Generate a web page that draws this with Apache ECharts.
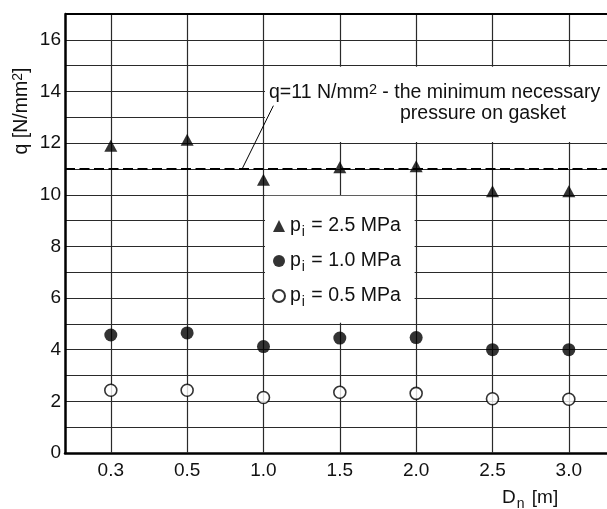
<!DOCTYPE html>
<html>
<head>
<meta charset="utf-8">
<script src="https://cdn.jsdelivr.net/npm/echarts@6/dist/echarts.min.js"></script>
<style>
html,body{margin:0;padding:0;background:#fff;}
#chart{width:607px;height:509px;}
</style>
</head>
<body>
<div id="chart"></div>
<script>
// ---- data ----
const categories = ['0.3', '0.5', '1.0', '1.5', '2.0', '2.5', '3.0'];   // D_n [m]
const pressures = ['2.5', '1.0', '0.5'];                                  // p_i [MPa]
const q25 = [11.90, 12.13, 10.58, 11.07, 11.10, 10.14, 10.14];            // p_i = 2.5 MPa
const q10 = [4.57, 4.65, 4.12, 4.45, 4.47, 4.00, 4.00];                   // p_i = 1.0 MPa
const q05 = [2.43, 2.43, 2.15, 2.35, 2.31, 2.10, 2.08];                   // p_i = 0.5 MPa
const qMin = 11;                                                          // minimum necessary pressure
const yMin = 0, yMax = 17, yStep = 1;

// ---- layout ----
const FONT = 'Liberation Sans, Arial, Helvetica, sans-serif';
const INK = '#111111';
const xMin = -0.6, xMax = 6.5;
const seriesNames = pressures.map(p => 'pi = ' + p + ' MPa');

const chart = echarts.init(document.getElementById('chart'), null, {renderer: 'canvas'});

const toPts = arr => arr.map((v, i) => [i, v]);

const option = {
  animation: false,
  backgroundColor: '#fff',
  textStyle: {fontFamily: FONT, color: INK},
  grid: {left: 65, right: 0, top: 14, bottom: 56},
  xAxis: {
    type: 'value', min: xMin, max: xMax,
    axisLine: {show: true, onZero: false, lineStyle: {color: '#000', width: 2.5}},
    axisTick: {show: false},
    splitLine: {show: false},
    axisLabel: {
      customValues: categories.map((c, i) => i),
      formatter: v => categories[Math.round(v)] ?? '',
      fontSize: 19, color: INK, margin: 8, fontFamily: FONT
    }
  },
  yAxis: {
    type: 'value', min: yMin, max: yMax, interval: yStep,
    axisLine: {show: true, onZero: false, lineStyle: {color: '#000', width: 2.5}},
    axisTick: {show: false},
    splitLine: {show: true, lineStyle: {color: '#2a2a2a', width: 1.2}},
    axisLabel: {
      formatter: v => (v % 2 === 0 ? String(v) : ''),
      fontSize: 19, color: INK, margin: 4, fontFamily: FONT
    }
  },
  legend: {
    orient: 'vertical', left: 272, top: 214, padding: 0, z: 20,
    itemWidth: 12, itemHeight: 12, itemGap: 10,
    data: seriesNames,
    formatter: name => '{a|p}{s|i}{a| = ' + pressures[seriesNames.indexOf(name)] + ' MPa}',
    textStyle: {
      fontFamily: FONT, color: INK,
      rich: {
        a: {fontSize: 19.5, lineHeight: 24, fontFamily: FONT, color: INK},
        s: {fontSize: 14, lineHeight: 14, padding: [11, 1, 0, 1], verticalAlign: 'top', fontFamily: FONT, color: INK}
      }
    }
  },
  series: [
    { // vertical grid lines
      type: 'scatter', data: [], z: 1, silent: true,
      markLine: {
        silent: true, symbol: 'none', animation: false, z: 1,
        label: {show: false},
        lineStyle: {color: '#2a2a2a', width: 1.2, type: 'solid'},
        data: categories.map((c, i) => [{coord: [i, yMin]}, {coord: [i, yMax]}])
      }
    },
    { // white boxes for annotation and legend
      type: 'scatter', data: [], z: 2, silent: true,
      markArea: {
        silent: true, z: 2,
        itemStyle: {color: '#ffffff', opacity: 1, borderWidth: 0},
        label: {show: false},
        emphasis: {disabled: true},
        data: [
          [{coord: [2.02, 12.04]}, {coord: [xMax, 14.96]}],
          [{coord: [2.02, 5.04]}, {coord: [3.98, 9.96]}]
        ]
      }
    },
    { // top frame, dashed minimum line and leader
      type: 'scatter', data: [], z: 3, silent: true,
      markLine: {
        silent: true, symbol: 'none', animation: false, z: 3,
        label: {show: false},
        data: [
          {yAxis: yMax, lineStyle: {color: '#000', width: 2.2, type: 'solid'}},
          {yAxis: qMin, lineStyle: {color: '#000', width: 2, type: [10, 4.5]}},
          [{coord: [1.72, qMin], lineStyle: {color: '#000', width: 1, type: 'solid'}}, {coord: [2.13, 13.45]}]
        ]
      }
    },
    {
      name: seriesNames[0], type: 'scatter', z: 5,
      symbol: 'triangle', symbolSize: [13, 12],
      itemStyle: {color: '#000'},
      data: toPts(q25)
    },
    {
      name: seriesNames[1], type: 'scatter', z: 5,
      symbol: 'circle', symbolSize: 13,
      itemStyle: {color: '#000'},
      data: toPts(q10)
    },
    {
      name: seriesNames[2], type: 'scatter', z: 5,
      symbol: 'circle', symbolSize: 12,
      itemStyle: {color: '#fff', borderColor: '#000', borderWidth: 1.6},
      data: toPts(q05)
    }
  ],
  graphic: [
    {
      type: 'text', x: 22, y: 111, rotation: Math.PI / 2, z: 10,
      style: {
        text: '{a|q [N/mm}{sup|2}{a|]}',
        align: 'center', verticalAlign: 'middle',
        rich: {
          a: {fontSize: 19.5, lineHeight: 24, fontFamily: FONT, fill: INK, color: INK},
          sup: {fontSize: 14, lineHeight: 14, padding: [1, 0, 0, 0], verticalAlign: 'top', fontFamily: FONT, fill: INK, color: INK}
        }
      }
    },
    {
      type: 'text', x: 502, y: 498, z: 10,
      style: {
        text: '{a|D}{s|n}{a| [m]}',
        align: 'left', verticalAlign: 'middle',
        rich: {
          a: {fontSize: 19, lineHeight: 24, fontFamily: FONT, fill: INK, color: INK},
          s: {fontSize: 14, lineHeight: 14, padding: [11, 2, 0, 1], verticalAlign: 'top', fontFamily: FONT, fill: INK, color: INK}
        }
      }
    },
    {
      type: 'text', x: 269, y: 93, z: 10,
      style: {
        text: '{a|q=11 N/mm}{sup|2}{a| - the minimum necessary}',
        align: 'left', verticalAlign: 'middle',
        rich: {
          a: {fontSize: 19.5, lineHeight: 24, fontFamily: FONT, fill: INK, color: INK},
          sup: {fontSize: 14.5, lineHeight: 14, padding: [1, 0, 0, 0], verticalAlign: 'top', fontFamily: FONT, fill: INK, color: INK}
        }
      }
    },
    {
      type: 'text', x: 400, y: 114, z: 10,
      style: {
        text: 'pressure on gasket',
        align: 'left', verticalAlign: 'middle',
        fontSize: 19.5, fontFamily: FONT, fill: INK
      }
    }
  ]
};

chart.setOption(option);
</script>
</body>
</html>
